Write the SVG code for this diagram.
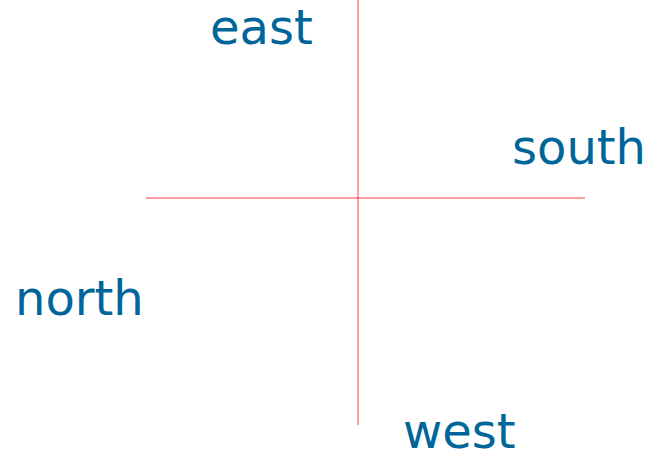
<svg xmlns="http://www.w3.org/2000/svg" width="655" height="455" viewBox="0 0 655 455">
<style>
.lbl{font-family:"DejaVu Sans",Verdana,sans-serif;font-size:48px;fill:#006699}
.ax{stroke:#ff0000;stroke-opacity:0.5;stroke-width:1.5;fill:none}
</style>
<rect width="655" height="455" fill="#ffffff"/>
<g id="connectors">
<line class="ax" x1="358" y1="0" x2="358" y2="425"/>
<line class="ax" x1="146" y1="198" x2="585" y2="198"/>
</g>
<g id="east"><text class="lbl" x="210" y="44">east</text></g>
<g id="south"><text class="lbl" x="512" y="164">south</text></g>
<g id="north"><text class="lbl" x="15" y="315">north</text></g>
<g id="west"><text class="lbl" x="403" y="448">west</text></g>
</svg>
